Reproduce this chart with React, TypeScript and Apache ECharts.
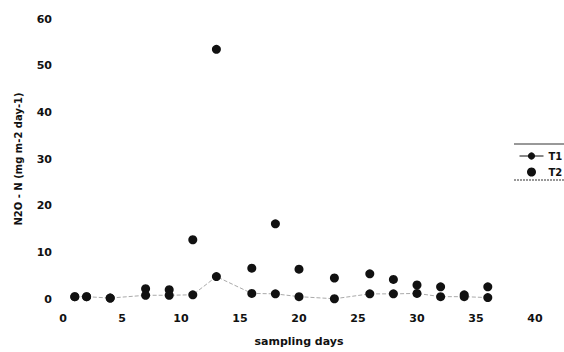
import React, { useEffect, useRef } from "react";
import * as echarts from "echarts";

const days = [1, 2, 4, 7, 9, 11, 13, 16, 18, 20, 23, 26, 28, 30, 32, 34, 36];
const t1Values = [0.5, 0.5, 0.2, 0.8, 0.8, 0.9, 4.8, 1.2, 1.1, 0.5, 0.05, 1.1, 1.1, 1.2, 0.5, 0.5, 0.3];
const t2Values = [0.5, 0.5, 0.2, 2.2, 2.0, 12.7, 53.5, 6.6, 16.1, 6.4, 4.5, 5.4, 4.2, 3.0, 2.6, 0.9, 2.6];
const seriesNames = ["T1", "T2"];
const xTitle = "sampling days";
const yTitle = "N2O - N (mg m-2 day-1)";

const FONT = "DejaVu Sans";

export default function App() {
  const ref = useRef<HTMLDivElement>(null);
  useEffect(() => {
    const chart = echarts.init(ref.current!, null, { renderer: "svg" });
    const textStyle = { fontFamily: FONT, fontSize: 11, fontWeight: "bold" as const, color: "#111" };
    chart.setOption({
      animation: false,
      backgroundColor: "#fff",
      textStyle: { fontFamily: FONT },
      grid: { left: 63, right: 29, top: 19, bottom: 44.5, containLabel: false },
      xAxis: {
        type: "value",
        min: 0,
        max: 40,
        interval: 5,
        name: xTitle,
        nameLocation: "middle",
        nameGap: 37,
        nameTextStyle: { ...textStyle },
        axisLine: { show: false },
        axisTick: { show: false },
        splitLine: { show: false },
        axisLabel: { ...textStyle, margin: 14 },
      },
      yAxis: {
        type: "value",
        min: 0,
        max: 60,
        interval: 10,
        name: yTitle,
        nameLocation: "middle",
        nameGap: 40,
        nameTextStyle: { ...textStyle, fontSize: 10 },
        axisLine: { show: false },
        axisTick: { show: false },
        splitLine: { show: false },
        axisLabel: { ...textStyle, margin: 11 },
      },
      legend: {
        orient: "vertical",
        left: 514,
        top: 146,
        itemWidth: 24,
        itemHeight: 9,
        itemGap: 6,
        textStyle: { ...textStyle, fontSize: 10 },
        lineStyle: { color: "#111", opacity: 1, type: "solid", width: 1 },
        data: seriesNames,
      },
      graphic: [
        { type: "line", shape: { x1: 514, y1: 144, x2: 564, y2: 144 }, style: { stroke: "#333", lineWidth: 1 } },
        { type: "line", shape: { x1: 514, y1: 180, x2: 564, y2: 180 }, style: { stroke: "#333", lineWidth: 1, lineDash: [2, 1] } },
      ],
      series: [
        {
          name: seriesNames[0],
          type: "line",
          data: days.map((d, i) => [d, t1Values[i]]),
          symbol: "circle",
          symbolSize: 9,
          itemStyle: { color: "#111", opacity: 1 },
          lineStyle: { color: "#555", width: 1, type: "dashed", opacity: 0.5 },
        },
        {
          name: seriesNames[1],
          type: "scatter",
          data: days.map((d, i) => [d, t2Values[i]]),
          symbol: "circle",
          symbolSize: 9,
          itemStyle: { color: "#111", opacity: 1 },
        },
      ],
    });
    return () => chart.dispose();
  }, []);
  return <div ref={ref} style={{ position: "fixed", left: 0, top: 0, width: 564, height: 352 }} />;
}
